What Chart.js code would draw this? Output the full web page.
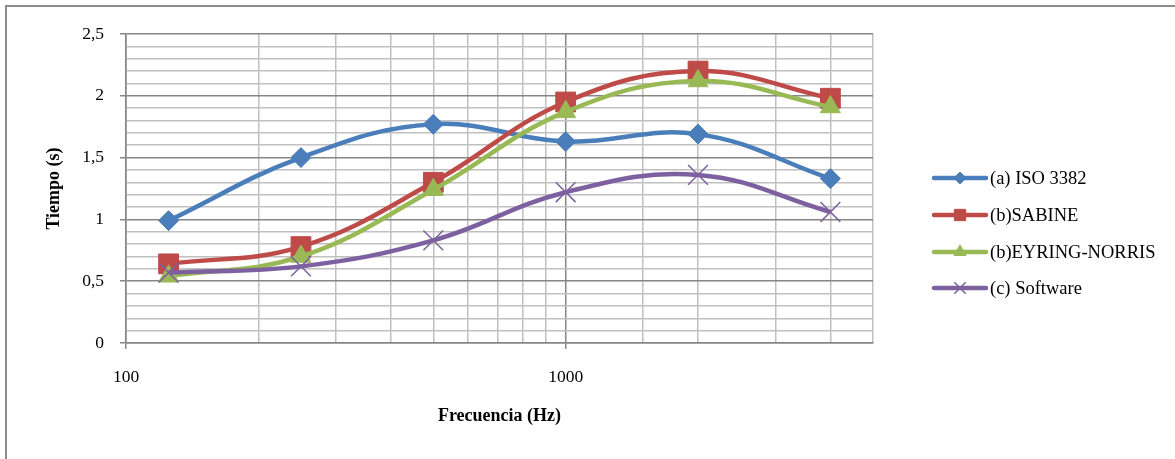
<!DOCTYPE html>
<html>
<head>
<meta charset="utf-8">
<script src="https://cdn.jsdelivr.net/npm/chart.js@4/dist/chart.umd.min.js"></script>
<style>
  html, body { margin: 0; padding: 0; background: #fff; }
  #wrap { width: 1175px; height: 459px; }
</style>
</head>
<body>
<div id="wrap"><canvas id="chart" width="1175" height="459"></canvas></div>
<script>
// Frecuencias (Hz) y tiempos de reverberación (s)
const frecuencias = [125, 250, 500, 1000, 2000, 4000];
const iso3382 = [0.99, 1.50, 1.77, 1.63, 1.69, 1.33];
const sabine = [0.64, 0.78, 1.30, 1.95, 2.20, 1.98];
const eyring = [0.54, 0.70, 1.24, 1.87, 2.12, 1.91];
const software = [0.57, 0.62, 0.83, 1.22, 1.36, 1.06];

const nombres = ['(a) ISO 3382', '(b)SABINE', '(b)EYRING-NORRIS', '(c) Software'];
const etiquetasX = [100, 1000];

const FONT = '"Liberation Serif", "Times New Roman", serif';
const GRIS_MAYOR = '#868686';
const GRIS_MENOR = '#c0c0c0';

function puntos(valores) {
    return frecuencias.map((f, i) => ({x: f, y: valores[i]}));
}

function esMayorY(v) {
    return Math.abs(v * 2 - Math.round(v * 2)) < 1e-6;
}

function esMayorX(v) {
    return etiquetasX.includes(Math.round(v));
}

const estilos = [
    {color: '#4a7ebb', punto: 'rectRot', r: 10, rl: 6, bw: 1},
    {color: '#be4b48', punto: 'rect', r: 14, rl: 8, bw: 1},
    {color: '#98b954', punto: 'triangle', r: 11.5, rl: 7, bw: 1},
    {color: '#7d60a0', punto: 'crossRot', r: 14, rl: 8, bw: 1.5}
];

const series = [iso3382, sabine, eyring, software];

const datasets = series.map((valores, i) => ({
    label: nombres[i],
    data: puntos(valores),
    borderColor: estilos[i].color,
    backgroundColor: estilos[i].color,
    pointBackgroundColor: estilos[i].color,
    pointBorderColor: estilos[i].color,
    pointStyle: estilos[i].punto,
    pointRadius: estilos[i].r,
    pointBorderWidth: estilos[i].bw,
    borderWidth: 4.5,
    tension: 0.4,
    fill: false,
    order: 3 - i
}));

// Marco y leyenda al estilo Excel
const marco = {
    id: 'marco',
    beforeDraw(chart) {
        const ctx = chart.ctx;
        ctx.save();
        ctx.fillStyle = '#fff';
        ctx.fillRect(0, 0, chart.width, chart.height);
        ctx.fillStyle = '#8c8c8c';
        ctx.fillRect(5, 5, chart.width - 5, 2);
        ctx.fillRect(5, 5, 2, chart.height - 5);
        ctx.restore();
    },
    afterDraw(chart) {
        const ctx = chart.ctx;
        const ys = [178, 215, 252, 288];
        ctx.save();
        nombres.forEach((nombre, i) => {
            const e = estilos[i];
            const y = ys[i];
            ctx.strokeStyle = e.color;
            ctx.fillStyle = e.color;
            ctx.lineWidth = 4.5;
            ctx.lineCap = 'round';
            ctx.beginPath();
            ctx.moveTo(934, y);
            ctx.lineTo(986, y);
            ctx.stroke();
            ctx.lineCap = 'butt';
            ctx.lineWidth = e.bw;
            Chart.helpers.drawPoint(ctx, {pointStyle: e.punto, radius: e.rl, rotation: 0, borderWidth: e.bw}, 960, y);
            ctx.fillStyle = '#000';
            ctx.font = '18.5px ' + FONT;
            ctx.textBaseline = 'middle';
            ctx.textAlign = 'left';
            ctx.fillText(nombre, 990, y + 1);
        });
        ctx.restore();
    }
};

new Chart(document.getElementById('chart'), {
    type: 'line',
    data: {datasets: datasets},
    plugins: [marco],
    options: {
        responsive: false,
        animation: false,
        layout: {padding: {top: 34, right: 302, left: 0, bottom: 0}},
        plugins: {
            legend: {display: false},
            tooltip: {enabled: false}
        },
        scales: {
            x: {
                type: 'logarithmic',
                min: 100,
                max: 5000,
                afterFit(scale) { scale.height = 116; },
                grid: {
                    color: c => esMayorX(c.tick.value) ? GRIS_MAYOR : GRIS_MENOR,
                    tickColor: c => esMayorX(c.tick.value) ? GRIS_MAYOR : 'rgba(0,0,0,0)',
                    tickLength: 6,
                    lineWidth: 1.5
                },
                border: {color: GRIS_MAYOR, width: 1.5},
                ticks: {
                    autoSkip: false,
                    maxRotation: 0,
                    padding: 18,
                    color: '#000',
                    font: {family: FONT, size: 17.5},
                    callback: v => esMayorX(v) ? String(Math.round(v)) : ''
                },
                title: {
                    display: true,
                    text: 'Frecuencia (Hz)',
                    color: '#000',
                    font: {family: FONT, size: 18, weight: 'bold'},
                    padding: {top: 0, bottom: 32}
                }
            },
            y: {
                min: 0,
                max: 2.5,
                afterFit(scale) { scale.width = 126; },
                grid: {
                    color: c => esMayorY(c.tick.value) ? GRIS_MAYOR : GRIS_MENOR,
                    tickColor: c => esMayorY(c.tick.value) ? GRIS_MAYOR : 'rgba(0,0,0,0)',
                    tickLength: 6,
                    lineWidth: 1.5
                },
                border: {color: GRIS_MAYOR, width: 1.5},
                ticks: {
                    stepSize: 0.1,
                    autoSkip: false,
                    padding: 16,
                    color: '#000',
                    font: {family: FONT, size: 17.5},
                    callback: v => esMayorY(v) ? String(Math.round(v * 10) / 10).replace('.', ',') : ''
                },
                title: {
                    display: true,
                    text: 'Tiempo (s)',
                    color: '#000',
                    font: {family: FONT, size: 18, weight: 'bold'},
                    padding: {top: 44, bottom: 0}
                }
            }
        }
    }
});
</script>
</body>
</html>
